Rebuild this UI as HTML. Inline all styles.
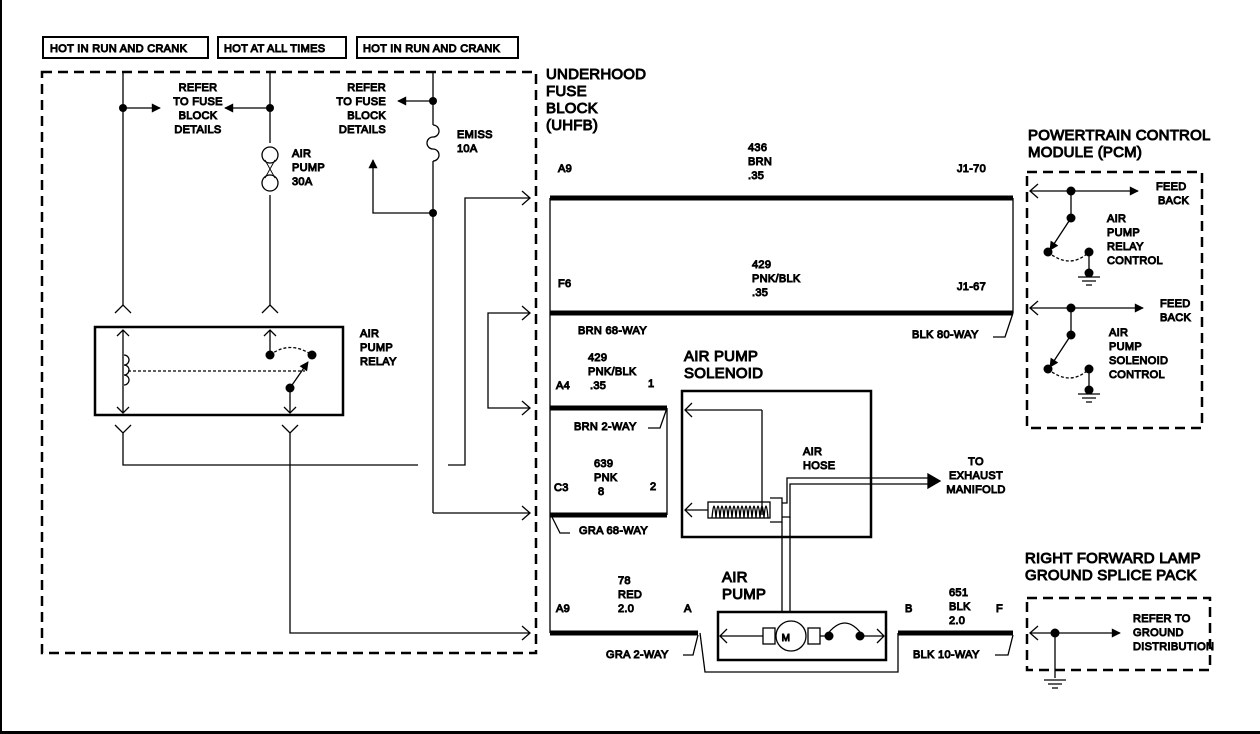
<!DOCTYPE html>
<html><head><style>
body{margin:0;background:#fff}
svg{display:block}
text{font-family:"Liberation Sans",sans-serif;font-size:11px;fill:#000;font-weight:normal;letter-spacing:0.3px}
.t{font-size:15px;letter-spacing:0.2px}
</style></head><body>
<svg width="1260" height="734" viewBox="0 0 1260 734" xmlns="http://www.w3.org/2000/svg">
<defs>
<marker id="ah" viewBox="0 0 10 10" refX="9" refY="5" markerWidth="9" markerHeight="7" orient="auto"><path d="M0,0L10,5L0,10z" fill="#000"/></marker>
</defs>
<rect x="0" y="0" width="2" height="734" fill="#000"/>
<rect x="0" y="731" width="1260" height="3" fill="#000"/>
<g fill="none" stroke="#000">
<rect x="43" y="37" width="165" height="21" stroke-width="2"/>
<rect x="218" y="37" width="128" height="21" stroke-width="2"/>
<rect x="357" y="37" width="161" height="21" stroke-width="2"/>
<rect x="42" y="72" width="494" height="581" stroke-width="2.5" stroke-dasharray="10,6"/>
<rect x="1027" y="172" width="175" height="256" stroke-width="2.5" stroke-dasharray="10,6"/>
<rect x="1027" y="598" width="183" height="72" stroke-width="2.5" stroke-dasharray="10,6"/>
<g stroke-width="1.3">
<line x1="123" y1="72" x2="123" y2="305"/>
<line x1="123" y1="108" x2="160" y2="108" marker-end="url(#ah)"/>
<line x1="270" y1="72" x2="270" y2="143"/>
<line x1="270" y1="108" x2="225" y2="108" marker-end="url(#ah)"/>
<circle cx="270" cy="155" r="8"/><circle cx="270" cy="183" r="8"/>
<line x1="265" y1="160" x2="275" y2="178" stroke-width="0.9"/><line x1="275" y1="160" x2="265" y2="178" stroke-width="0.9"/>
<line x1="270" y1="195" x2="270" y2="305"/>
<line x1="433" y1="72" x2="433" y2="125"/>
<line x1="433" y1="101" x2="398" y2="101" marker-end="url(#ah)"/>
<path d="M433,125 a6,6 0 0 1 0,12 a6,6 0 0 0 0,12 a6,6 0 0 1 0,12"/>
<line x1="433" y1="161" x2="433" y2="513"/>
<path d="M433,213 L373,213 L373,160" marker-end="url(#ah)"/>
<line x1="433" y1="513" x2="530" y2="513"/>
<path d="M115,313 L123,305 L131,313 M262,313 L270,305 L278,313"/>
<path d="M115,425 L123,433 L131,425 M282,425 L290,433 L298,425"/>
<rect x="95" y="327" width="248" height="88" stroke-width="2.5"/>
<line x1="123" y1="330" x2="123" y2="413"/>
<path d="M117,336 L123,330 L129,336 M117,407 L123,413 L129,407"/>
<path d="M124,355 a5,5 0 0 1 0,10 a5,5 0 0 1 0,10 a5,5 0 0 1 0,10"/>
<line x1="128" y1="371" x2="305" y2="371" stroke-dasharray="3,2"/>
<line x1="270" y1="330" x2="270" y2="355"/>
<path d="M264,336 L270,330 L276,336"/>
<path d="M270,355 Q290,340 312,355" stroke-dasharray="3,2"/>
<line x1="290" y1="388" x2="308" y2="362" marker-end="url(#ah)"/>
<line x1="290" y1="388" x2="290" y2="413"/>
<path d="M284,407 L290,413 L296,407"/>
<path d="M123,433 L123,465 L418,465"/>
<path d="M448,465 L465,465 L465,198 L530,198"/>
<path d="M522,191 L530,198 L522,205"/>
<path d="M290,433 L290,633 L530,633"/>
<path d="M522,626 L530,633 L522,640"/>
<path d="M530,313 L488,313 L488,408 L530,408"/>
<path d="M522,306 L530,313 L522,320 M522,401 L530,408 L522,415 M522,506 L530,513 L522,520"/>
<line x1="550" y1="198" x2="550" y2="633"/>
<line x1="1013" y1="198" x2="1013" y2="313"/>
<line x1="667" y1="408" x2="667" y2="515"/>
<path d="M700,633 L705,672 L898,672 L898,633"/>
<path d="M1013,313 L1005,337 L993,337 M667,408 L660,428 L648,428 M552,517 L560,533 L570,533 M698,635 L693,655 L683,655 M1013,635 L1008,655 L995,655"/>
<rect x="682" y="391" width="189" height="146" stroke-width="2.5"/>
<path d="M762,410 L685,410 M692,403 L685,410 L692,417"/>
<line x1="762" y1="410" x2="762" y2="515"/>
<path d="M685,510 L708,510 M692,503 L685,510 L692,517"/>
<rect x="708" y="502" width="62" height="16"/>
<path d="M712,518 q2,-24 4,0 q2,-24 4,0 q2,-24 4,0 q2,-24 4,0 q2,-24 4,0 q2,-24 4,0 q2,-24 4,0 q2,-24 4,0 q2,-24 4,0 q2,-24 4,0 q2,-24 4,0 q2,-24 4,0 q2,-24 4,0 q2,-24 4,0"/>
<path d="M770,498 L782,498 L782,522 L770,522"/>
<path d="M782,503 L787,503 L787,478 L930,478 M782,517 L790,517 L790,484 L930,484"/>
<path d="M928,474 L940,481 L928,488 z" fill="#000"/>
<path d="M782,522 L782,612 M790,517 L790,612"/>
<rect x="718" y="612" width="168" height="48" stroke-width="2.5"/>
<path d="M720,636 L763,636 M727,629 L720,636 L727,643"/>
<rect x="763" y="628" width="12" height="16"/><rect x="808" y="628" width="12" height="16"/>
<circle cx="791" cy="636" r="15" fill="#fff"/>
<line x1="820" y1="636" x2="826" y2="636"/>
<path d="M826,636 Q845,610 863,636"/>
<path d="M863,636 L884,636 M877,629 L884,636 L877,643"/>
<path d="M1030,191 L1138,191" marker-end="url(#ah)"/>
<path d="M1038,184 L1030,191 L1038,198"/>
<path d="M1071,191 L1071,218 L1050,250" marker-end="url(#ah)"/>
<path d="M1048,252 Q1070,270 1089,252" stroke-dasharray="3,2"/>
<path d="M1089,252 L1089,275 M1078,277 L1100,277 M1082,281 L1096,281 M1086,285 L1092,285"/>
<path d="M1030,308 L1143,308" marker-end="url(#ah)"/>
<path d="M1038,301 L1030,308 L1038,315"/>
<path d="M1071,308 L1071,335 L1050,367" marker-end="url(#ah)"/>
<path d="M1048,369 Q1070,387 1089,369" stroke-dasharray="3,2"/>
<path d="M1089,369 L1089,392 M1078,394 L1100,394 M1082,398 L1096,398 M1086,402 L1092,402"/>
<path d="M1030,633 L1120,633" marker-end="url(#ah)"/>
<path d="M1038,626 L1030,633 L1038,640"/>
<path d="M1055,633 L1055,678 M1044,680 L1066,680 M1048,684 L1062,684 M1052,688 L1058,688"/>
</g>
<g stroke="#000" stroke-width="5">
<line x1="550" y1="198" x2="1013" y2="198"/><line x1="550" y1="313" x2="1013" y2="313"/>
<line x1="550" y1="408" x2="667" y2="408"/><line x1="550" y1="515" x2="667" y2="515"/>
<line x1="550" y1="633" x2="698" y2="633"/><line x1="898" y1="633" x2="1013" y2="633"/>
</g>
<g fill="#000" stroke="none">
<circle cx="123" cy="108" r="4"/><circle cx="270" cy="108" r="4"/>
<circle cx="433" cy="101" r="4"/><circle cx="433" cy="213" r="4"/>
<circle cx="270" cy="355" r="4.5"/><circle cx="312" cy="355" r="4.5"/><circle cx="290" cy="388" r="4.5"/>
<circle cx="829" cy="636" r="4.5"/><circle cx="860" cy="636" r="4.5"/>
<circle cx="1071" cy="191" r="4.5"/><circle cx="1071" cy="218" r="4.5"/><circle cx="1048" cy="252" r="4.5"/><circle cx="1089" cy="252" r="4.5"/><circle cx="1089" cy="273" r="4.5"/>
<circle cx="1071" cy="308" r="4.5"/><circle cx="1071" cy="335" r="4.5"/><circle cx="1048" cy="369" r="4.5"/><circle cx="1089" cy="369" r="4.5"/><circle cx="1089" cy="390" r="4.5"/>
<circle cx="1055" cy="633" r="4.5"/>
</g>
<text x="50" y="52">HOT IN RUN AND CRANK</text>
<text x="224" y="52">HOT AT ALL TIMES</text>
<text x="363" y="52">HOT IN RUN AND CRANK</text>
<text x="198" y="91" text-anchor="middle">REFER</text><text x="198" y="105" text-anchor="middle">TO FUSE</text><text x="198" y="119" text-anchor="middle">BLOCK</text><text x="198" y="133" text-anchor="middle">DETAILS</text>
<text x="386" y="91" text-anchor="end">REFER</text><text x="386" y="105" text-anchor="end">TO FUSE</text><text x="386" y="119" text-anchor="end">BLOCK</text><text x="386" y="133" text-anchor="end">DETAILS</text>
<text x="292" y="157">AIR</text><text x="292" y="171">PUMP</text><text x="292" y="185">30A</text>
<text x="457" y="138">EMISS</text><text x="457" y="152">10A</text>
<text x="360" y="337">AIR</text><text x="360" y="351">PUMP</text><text x="360" y="365">RELAY</text>
<text class="t" x="546" y="79">UNDERHOOD</text><text class="t" x="546" y="96">FUSE</text><text class="t" x="546" y="113">BLOCK</text><text class="t" x="546" y="130">(UHFB)</text>
<text x="558" y="172">A9</text><text x="748" y="151">436</text><text x="748" y="165">BRN</text><text x="748" y="179">.35</text><text x="957" y="172">J1-70</text>
<text x="558" y="287">F6</text><text x="752" y="268">429</text><text x="752" y="282">PNK/BLK</text><text x="752" y="296">.35</text><text x="957" y="290">J1-67</text>
<text x="578" y="334">BRN 68-WAY</text><text x="912" y="338">BLK 80-WAY</text>
<text x="588" y="361">429</text><text x="588" y="375">PNK/BLK</text><text x="556" y="389">A4</text><text x="590" y="389">.35</text><text x="648" y="387">1</text>
<text x="574" y="430">BRN 2-WAY</text>
<text x="594" y="467">639</text><text x="594" y="481">PNK</text><text x="598" y="495">8</text><text x="554" y="491">C3</text><text x="650" y="490">2</text>
<text x="579" y="534">GRA 68-WAY</text>
<text x="618" y="584">78</text><text x="618" y="598">RED</text><text x="618" y="612">2.0</text><text x="556" y="612">A9</text><text x="684" y="612">A</text>
<text x="606" y="658">GRA 2-WAY</text>
<text class="t" x="684" y="361">AIR PUMP</text><text class="t" x="684" y="378">SOLENOID</text>
<text x="803" y="455">AIR</text><text x="803" y="469">HOSE</text>
<text x="976" y="465" text-anchor="middle">TO</text><text x="976" y="479" text-anchor="middle">EXHAUST</text><text x="976" y="493" text-anchor="middle">MANIFOLD</text>
<text class="t" x="722" y="582">AIR</text><text class="t" x="722" y="599">PUMP</text>
<text x="786" y="641" text-anchor="middle" style="font-size:10px">M</text>
<text x="905" y="612">B</text><text x="949" y="596">651</text><text x="949" y="610">BLK</text><text x="949" y="624">2.0</text><text x="996" y="612">F</text>
<text x="913" y="658">BLK 10-WAY</text>
<text class="t" x="1028" y="140">POWERTRAIN CONTROL</text><text class="t" x="1028" y="157">MODULE (PCM)</text>
<text x="1156" y="190">FEED</text><text x="1158" y="204">BACK</text>
<text x="1107" y="222">AIR</text><text x="1107" y="236">PUMP</text><text x="1107" y="250">RELAY</text><text x="1107" y="264">CONTROL</text>
<text x="1160" y="307">FEED</text><text x="1160" y="321">BACK</text>
<text x="1109" y="336">AIR</text><text x="1109" y="350">PUMP</text><text x="1109" y="364">SOLENOID</text><text x="1109" y="378">CONTROL</text>
<text class="t" x="1025" y="563">RIGHT FORWARD LAMP</text><text class="t" x="1025" y="580">GROUND SPLICE PACK</text>
<text x="1133" y="622">REFER TO</text><text x="1133" y="636">GROUND</text><text x="1133" y="650">DISTRIBUTION</text>
</svg>
</body></html>
